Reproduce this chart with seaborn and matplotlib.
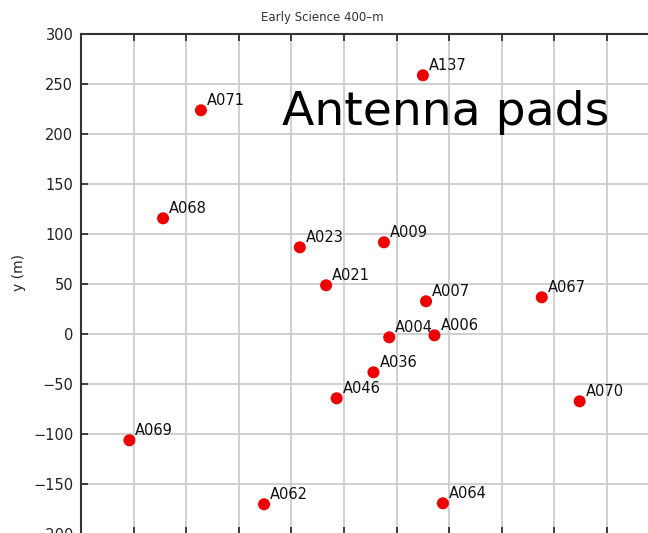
import matplotlib
matplotlib.use("Agg")
import matplotlib.pyplot as plt
import seaborn as sns
import pandas as pd
import numpy as np

# Antenna pad positions (m)
pads = ["A071", "A068", "A023", "A137", "A009", "A021", "A007", "A004",
        "A006", "A036", "A046", "A069", "A062", "A064", "A067", "A070"]
x_m = [-186, -222, -92, 25, -12, -67, 28, -7,
       36, -22, -57, -254, -126, 44, 138, 174]
y_m = [224, 116, 87, 259, 92, 49, 33, -3,
       -1, -38, -64, -106, -170, -169, 37, -67]

data = pd.DataFrame({"pad": pads, "x": x_m, "y": y_m})

sns.set_style("whitegrid")
plt.rcParams["font.family"] = ["DejaVu Sans"]

fig = plt.figure(figsize=(6.48, 5.33), dpi=100)
# axes run past the right and bottom edge, like the cropped original
ax = fig.add_axes([81 / 648, -1.3 / 533, 683.8 / 648, 500 / 533])

sns.scatterplot(data=data, x="x", y="y", ax=ax, color="#ee0000", s=75,
                edgecolor="none", zorder=3)

for _, row in data.iterrows():
    ax.annotate(row["pad"], (row["x"], row["y"]), xytext=(4.3, 3.6),
                textcoords="offset points", fontsize=10.5, va="baseline",
                color="#111111")

ax.set_xlim(-300, 350)
ax.set_ylim(-200, 300)
ax.set_xticks(np.arange(-300, 351, 50))
ax.set_yticks(np.arange(-200, 301, 50))
ax.grid(True, color="#cccccc", linewidth=1.3)
for side in ["left", "top", "bottom", "right"]:
    ax.spines[side].set_color("#333333")
    ax.spines[side].set_linewidth(1.5)

ax.tick_params(axis="both", direction="in", length=5, width=1.2,
               color="#222222", labelsize=10.5, labelcolor="#222222", pad=5.5,
               top=True, bottom=True, left=True)
# x tick labels fall below the cropped picture, so leave them out
ax.tick_params(axis="x", labelbottom=False)

ax.set_xlabel("")
ax.set_ylabel("y (m)", fontsize=10, color="#222222")
ax.yaxis.set_label_coords(-0.081, 0.5246)

fig.text(322 / 648, 1 - 18 / 533, "Early Science 400\u2013m", ha="center",
         va="center", fontsize=8.5, color="#333333")
fig.text(281.7 / 648, 1 - 125 / 533, "Antenna pads", ha="left",
         va="baseline", fontsize=34, color="black")

fig.savefig("out.png", dpi=100)
